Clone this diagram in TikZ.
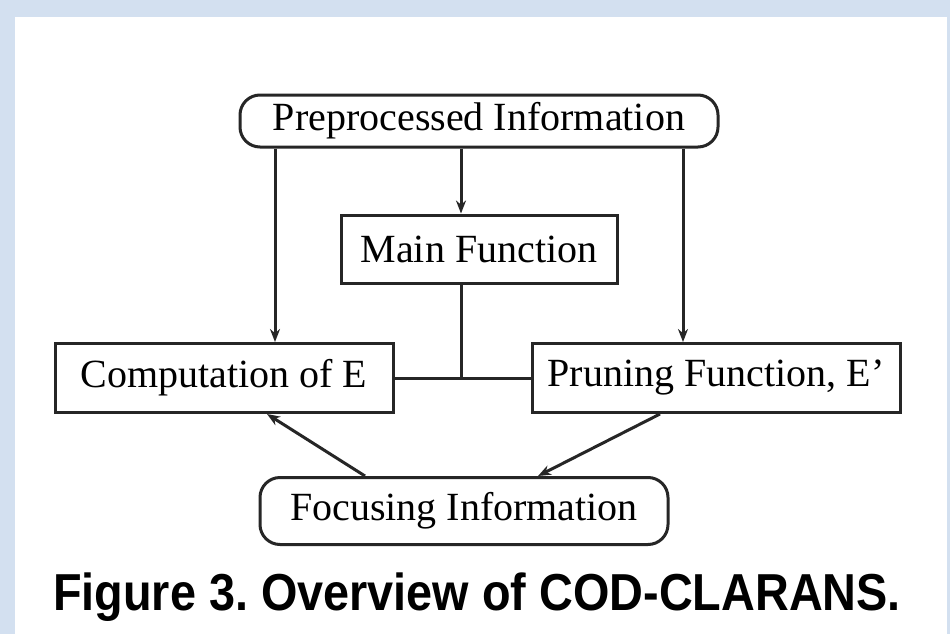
\documentclass[tikz,border=0pt]{standalone}
\usepackage{fontspec}
\setmainfont{Liberation Serif}
\newfontfamily\capfont{Liberation Sans}
\usetikzlibrary{arrows.meta}
\usetikzlibrary{positioning}

\definecolor{frameblue}{HTML}{D3E0F0}
\definecolor{inkgray}{HTML}{262626}

\begin{document}
\begin{tikzpicture}[x=1pt,y=1pt,->,>={Stealth[length=13pt,width=10pt]},line width=3pt,draw=inkgray]
            % styles of the boxes
            \tikzset{box/.style={draw=inkgray,rectangle,fill=white,text=black,
                       inner sep=0pt,font=\fontsize{40}{44}\selectfont},
                     infobox/.style={box,rounded corners=20pt}}

            % frame
            \fill[frameblue] (0,0) rectangle (950,-634);
            \fill[white] (15,-17) rectangle (947,-634);
            \useasboundingbox (0,0) rectangle (950,-634);

            % the boxes
            \node[infobox,minimum width=478pt,minimum height=52pt] (pre) at (479,-121) {Preprocessed Information};
            \node[box,minimum width=276pt,minimum height=68pt] (main) [below=65pt of pre] {Main Function};
            \node[box,minimum width=338pt,minimum height=69pt] (comp) at (224,-378) {Computation of E};
            \node[box,minimum width=368pt,minimum height=69pt] (prune) at (716,-378) {Pruning Function, E'};
            \node[infobox,minimum width=408pt,minimum height=67pt] (focus) at (464,-511) {Focusing Information};

            % caption
            \node[anchor=base,text=black,font=\capfont\bfseries\fontsize{52}{56}\selectfont] (cap) at (477,-610)
                {\frenchspacing\scalebox{0.9}[1]{Figure 3. Overview of COD-CLARANS.}};

            % arrows
            \draw ([xshift=51pt]comp.north |- pre.south) -- ([xshift=51pt]comp.north);
            \draw ([xshift=-18pt]main.north |- pre.south) -- ([xshift=-18pt]main.north);
            \draw ([xshift=-33pt]prune.north |- pre.south) -- ([xshift=-33pt]prune.north);
            \draw ([xshift=-99pt]focus.north) -- ([xshift=43pt]comp.south);
            \draw ([xshift=-56pt]prune.south) -- ([xshift=74pt]focus.north);

            % plain lines
            \draw[-] (comp.east) -- (prune.west);
            \draw[-] ([xshift=-18pt]main.south) -- ([xshift=-18pt]main.south |- comp.east);
\end{tikzpicture}
\end{document}
